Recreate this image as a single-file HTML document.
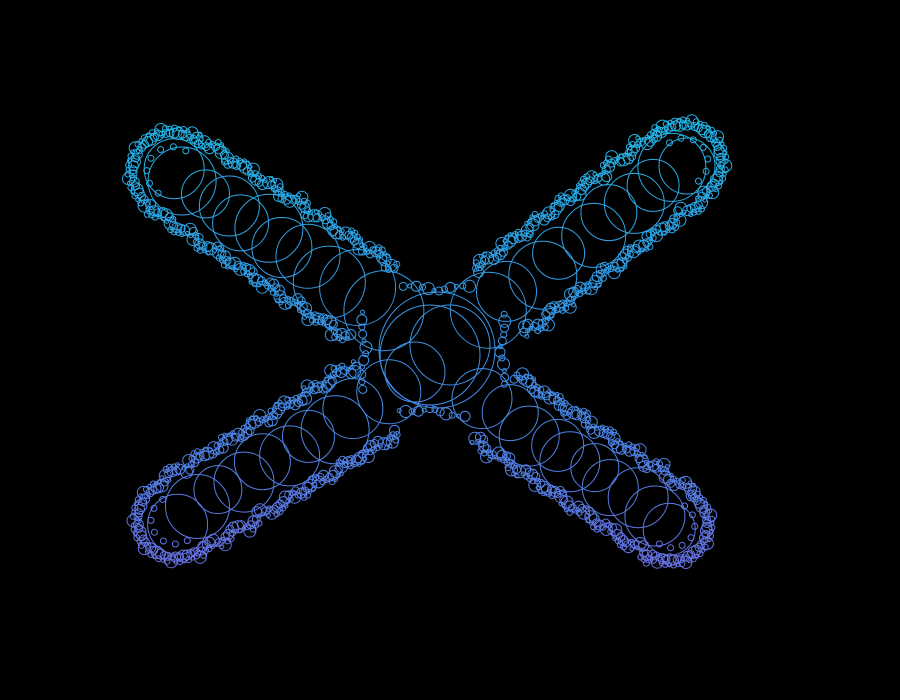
<!DOCTYPE html>
<html><head><meta charset="utf-8"><style>
html,body{margin:0;padding:0;background:#000;width:900px;height:700px;overflow:hidden}
svg{display:block}
</style></head><body>
<svg id="art" width="900" height="700" viewBox="0 0 900 700">
<defs><linearGradient id="g" gradientUnits="userSpaceOnUse" x1="0" y1="125" x2="0" y2="580">
<stop offset="0" stop-color="#22b4e6"/><stop offset="0.5" stop-color="#3a92e8"/><stop offset="1" stop-color="#6a6ee2"/></linearGradient></defs>
<rect width="900" height="700" fill="#000"/>
<g id="marks" fill="none" stroke="url(#g)" stroke-width="1"></g>
</svg>
<script>
// arm axes: start x,y ; end x,y ; half width
const armX0=[395,478,400,472];
const armY0=[318,318,385,392];
const armX1=[172,684,175,672];
const armY1=[172,162,520,525];
const armHW=[42,40,40,38];
// lobe wobble of edge along arm (px)
const lobe=[0,3,5,2,-2,4,6,1,-1,3,5,0];
// big circles along each arm
const bigArm=[0,0,0,0,0,0,0,0,0,0,0, 1,1,1,1,1,1,1,1,1,1, 2,2,2,2,2,2,2,2,2,2, 3,3,3,3,3,3,3,3,3,3];
const bigT=[0.05,0.18,0.28,0.4,0.5,0.58,0.68,0.75,0.85,0.95,1.0, 0.05,0.15,0.3,0.4,0.55,0.65,0.75,0.85,0.95,1.0, 0.05,0.2,0.3,0.4,0.5,0.6,0.7,0.8,0.9,1.0, 0.05,0.18,0.3,0.42,0.5,0.6,0.7,0.82,0.92,1.0];
const bigR=[40,38,36,32,30,34,28,30,24,34,30, 38,30,34,26,32,28,30,26,34,28, 32,30,34,26,30,28,30,24,32,30, 30,28,30,26,30,24,28,30,30,26];
const bigOff=[0,5,-6,4,-3,6,-5,3,0,-2,4, 0,-4,5,-3,4,-5,3,0,-3,5, 0,4,-5,3,-4,5,-3,4,0,-5, 0,-4,5,-3,4,-5,3,-4,2,5];
const centerCX=[437,430,450,415];
const centerCY=[350,355,345,372];
const centerR=[58,50,40,30];
// notch arcs of the central blob: angle (deg), distance from center
const notchAng=[-90,180,0,95];
const notchDist=[58,70,62,58];
const bubbleR=[4,2,5,3,6,2,4,3,5,2,3,6,4,3];
const g=document.getElementById('marks');
const NS='http://www.w3.org/2000/svg';
function circ(x,y,r,name){const c=document.createElementNS(NS,'circle');c.setAttribute('cx',x.toFixed(1));c.setAttribute('cy',y.toFixed(1));c.setAttribute('r',r);


g.appendChild(c);return c;}
function arm(i){const dx=armX1[i]-armX0[i],dy=armY1[i]-armY0[i],L=Math.hypot(dx,dy);return{dx:dx/L,dy:dy/L,L,nx:-dy/L,ny:dx/L};}
for(let i=0;i<centerCX.length;i++)circ(centerCX[i],centerCY[i],centerR[i],'center-circle');
for(let i=0;i<bigArm.length;i++){const a=arm(bigArm[i]),k=bigArm[i];
  circ(armX0[k]+a.dx*a.L*bigT[i]+a.nx*bigOff[i],armY0[k]+a.dy*a.L*bigT[i]+a.ny*bigOff[i],bigR[i],'ring-circle');}
let b=0;
for(let i=0;i<notchAng.length;i++){
  for(let d=-28;d<=28;d+=5){const ang=(notchAng[i]+d)*Math.PI/180;const dist=notchDist[i]+Math.abs(d)*0.5;
    const r=bubbleR[b++%bubbleR.length];
    circ(centerCX[0]+Math.cos(ang)*dist,centerCY[0]+Math.sin(ang)*dist,r,'notch-bubble');}}
for(let k=0;k<4;k++){const a=arm(k),hw=armHW[k];
  for(let s=0,n=0;s<=a.L;s+=4,n++){for(const side of [1,-1]){
    if(s<26)continue;
    const w=hw+lobe[(Math.floor(n/2)+(side>0?0:5))%lobe.length];
    for(const extra of [-3,2]){const r=bubbleR[b++%bubbleR.length];
    circ(armX0[k]+a.dx*s+a.nx*(w+extra)*side,armY0[k]+a.dy*s+a.ny*(w+extra)*side,r,'edge-bubble');}}}
  for(let t=-90;t<=90;t+=6){const ang=t*Math.PI/180;
    const ux=a.dx*Math.cos(ang)+a.nx*Math.sin(ang),uy=a.dy*Math.cos(ang)+a.ny*Math.sin(ang);
    for(const extra of [-3,2]){const r=bubbleR[b++%bubbleR.length];
    circ(armX1[k]+ux*(hw+extra),armY1[k]+uy*(hw+extra),r,'edge-bubble');}}
  for(let t=-90;t<=90;t+=30){const ang=t*Math.PI/180;
    circ(armX1[k]+(a.dx*Math.cos(ang)+a.nx*Math.sin(ang))*hw*0.6,armY1[k]+(a.dy*Math.cos(ang)+a.ny*Math.sin(ang))*hw*0.6,3,'inner-bubble');}
}
</script>
</body></html>
